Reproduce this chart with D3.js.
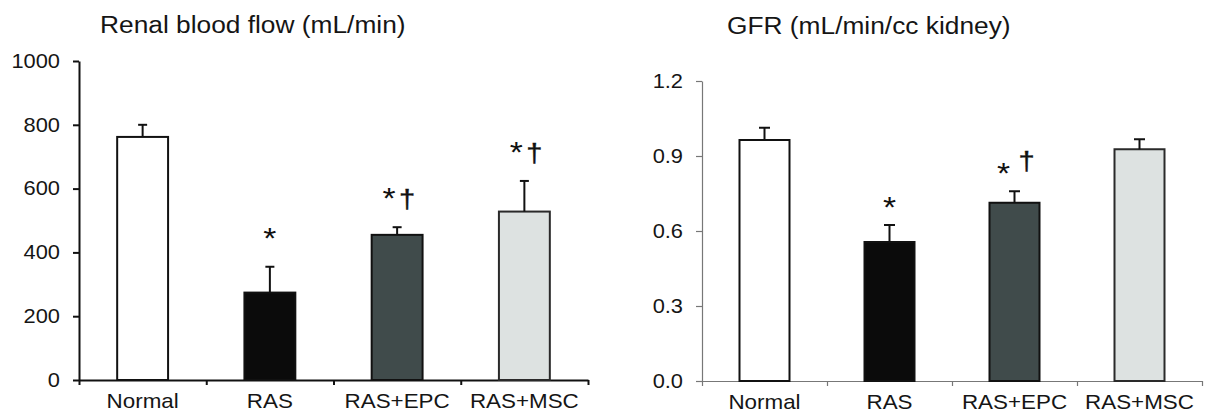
<!DOCTYPE html>
<html>
<head>
<meta charset="utf-8">
<script src="https://cdn.jsdelivr.net/npm/d3@7/dist/d3.min.js"></script>
<style>
  html, body { margin: 0; padding: 0; background: #fff; }
  svg { display: block; font-family: "Liberation Sans", Arial, sans-serif; }
</style>
</head>
<body>
<svg id="chart" width="1215" height="412"></svg>
<script>
// ---- data ----
const categories = ["Normal", "RAS", "RAS+EPC", "RAS+MSC"];
const rbfMean = [762, 274, 455, 528];
const rbfErr = [38, 81, 24, 96];
const rbfSig = ["", "*", "*†", "*†"];
const rbfTicks = [0, 200, 400, 600, 800, 1000];

const gfrMean = [0.964, 0.556, 0.713, 0.927];
const gfrErr = [0.049, 0.068, 0.046, 0.04];
const gfrSig = ["", "*", "*†", ""];
const gfrTicks = [0, 0.3, 0.6, 0.9, 1.2];

const titles = ["Renal blood flow (mL/min)", "GFR (mL/min/cc kidney)"];
const fills = ["#ffffff", "#0b0b0b", "#404b4b", "#dde2e1"];

const SX = 1.12; // horizontal text stretch
const svg = d3.select("#chart");

function panel(opts) {
  const g = svg.append("g");
  const x = d3.scaleBand().domain(categories).range([opts.x0, opts.x1])
    .paddingInner(0.6).paddingOuter(0.3);
  const xb = d3.scaleLinear().domain([0, categories.length]).range([opts.x0, opts.x1]);
  const y = d3.scaleLinear().domain([0, opts.ymax]).range([opts.y0, opts.y1]);

  // title
  g.append("text")
    .attr("transform", `translate(${opts.titleX},${opts.titleY}) scale(${SX},1)`)
    .attr("font-size", 23.5).attr("fill", "#151515")
    .text(opts.title);

  // y axis
  const ya = g.append("g").attr("transform", `translate(${opts.x0},0)`)
    .call(d3.axisLeft(y).tickValues(opts.ticks).tickFormat(opts.fmt)
      .tickSize(6).tickPadding(13).tickSizeOuter(0));
  ya.attr("font-family", null);
  ya.select(".domain").attr("stroke", opts.axisColor).attr("stroke-width", opts.axisW);
  ya.selectAll(".tick line").attr("stroke", opts.axisColor).attr("stroke-width", opts.axisW);
  ya.selectAll(".tick text").attr("font-size", 19.5).attr("fill", "#151515")
    .attr("transform", `scale(${SX},1)`).attr("x", -19 / SX);

  // x axis boundaries
  const xa = g.append("g").attr("transform", `translate(0,${opts.y0})`)
    .call(d3.axisBottom(xb).tickValues(d3.range(categories.length + 1)).tickFormat("")
      .tickSize(5).tickSizeOuter(0));
  xa.select(".domain").attr("stroke", opts.axisColor).attr("stroke-width", opts.axisW);
  xa.selectAll(".tick line").attr("stroke", opts.axisColor).attr("stroke-width", opts.axisW);

  // category labels
  const xl = g.append("g").attr("transform", `translate(0,${opts.y0})`)
    .call(d3.axisBottom(x).tickSize(0).tickPadding(0));
  xl.attr("font-family", null);
  xl.select(".domain").remove();
  xl.selectAll(".tick text").attr("font-size", 20).attr("fill", "#151515")
    .attr("dy", null).attr("y", opts.labelDy)
    .attr("transform", `scale(${SX},1)`);

  // bars
  g.selectAll("rect.bar").data(categories).join("rect")
    .attr("class", "bar")
    .attr("x", d => x(d)).attr("width", x.bandwidth())
    .attr("y", (d, i) => y(opts.mean[i]))
    .attr("height", (d, i) => opts.y0 - y(opts.mean[i]))
    .attr("fill", (d, i) => fills[i])
    .attr("stroke", (d, i) => i === 3 ? "#2a2a2a" : "#111")
    .attr("stroke-width", 2);

  // error bars
  const cx = d => x(d) + x.bandwidth() / 2;
  g.selectAll("line.err").data(categories).join("line")
    .attr("class", "err")
    .attr("x1", cx).attr("x2", cx)
    .attr("y1", (d, i) => y(opts.mean[i]))
    .attr("y2", (d, i) => y(opts.mean[i] + opts.err[i]))
    .attr("stroke", "#111").attr("stroke-width", 2);
  g.selectAll("line.cap").data(categories).join("line")
    .attr("class", "cap")
    .attr("x1", d => cx(d) - opts.capW / 2).attr("x2", d => cx(d) + opts.capW / 2)
    .attr("y1", (d, i) => y(opts.mean[i] + opts.err[i]))
    .attr("y2", (d, i) => y(opts.mean[i] + opts.err[i]))
    .attr("stroke", "#111").attr("stroke-width", 2);

  // significance marks
  categories.forEach((d, i) => {
    const s = opts.sig[i];
    if (!s) return;
    const top = y(opts.mean[i] + opts.err[i]);
    const base = top - opts.sigOff;
    const hasDag = s.indexOf("†") >= 0;
    const starX = hasDag ? cx(d) + opts.starDx : cx(d);
    g.append("text")
      .attr("transform", `translate(${starX},${base}) scale(${SX},1)`)
      .attr("text-anchor", "middle").attr("font-size", 30).attr("fill", "#111")
      .text("*");
    if (hasDag) {
      g.append("text")
        .attr("transform", `translate(${cx(d) + opts.dagDx},${base - opts.dagRaise}) scale(${SX},1)`)
        .attr("text-anchor", "middle").attr("font-size", 26).attr("fill", "#111")
        .attr("stroke", "#111").attr("stroke-width", 0.4)
        .text("†");
    }
  });
}

panel({
  x0: 79, x1: 588, y0: 380, y1: 61, ymax: 1000,
  mean: rbfMean, err: rbfErr, sig: rbfSig, ticks: rbfTicks,
  fmt: d3.format("d"), title: titles[0], titleX: 100, titleY: 33,
  axisColor: "#111", axisW: 2, labelDy: 28, capW: 9,
  sigOff: 19, starDx: -8, dagDx: 10, dagRaise: 0
});

panel({
  x0: 702, x1: 1202, y0: 381, y1: 81, ymax: 1.2,
  mean: gfrMean, err: gfrErr, sig: gfrSig, ticks: gfrTicks,
  fmt: d3.format(".1f"), title: titles[1], titleX: 727, titleY: 34,
  axisColor: "#777", axisW: 1.2, labelDy: 28, capW: 11,
  sigOff: 8, starDx: -11, dagDx: 12, dagRaise: 13
});
</script>
</body>
</html>
